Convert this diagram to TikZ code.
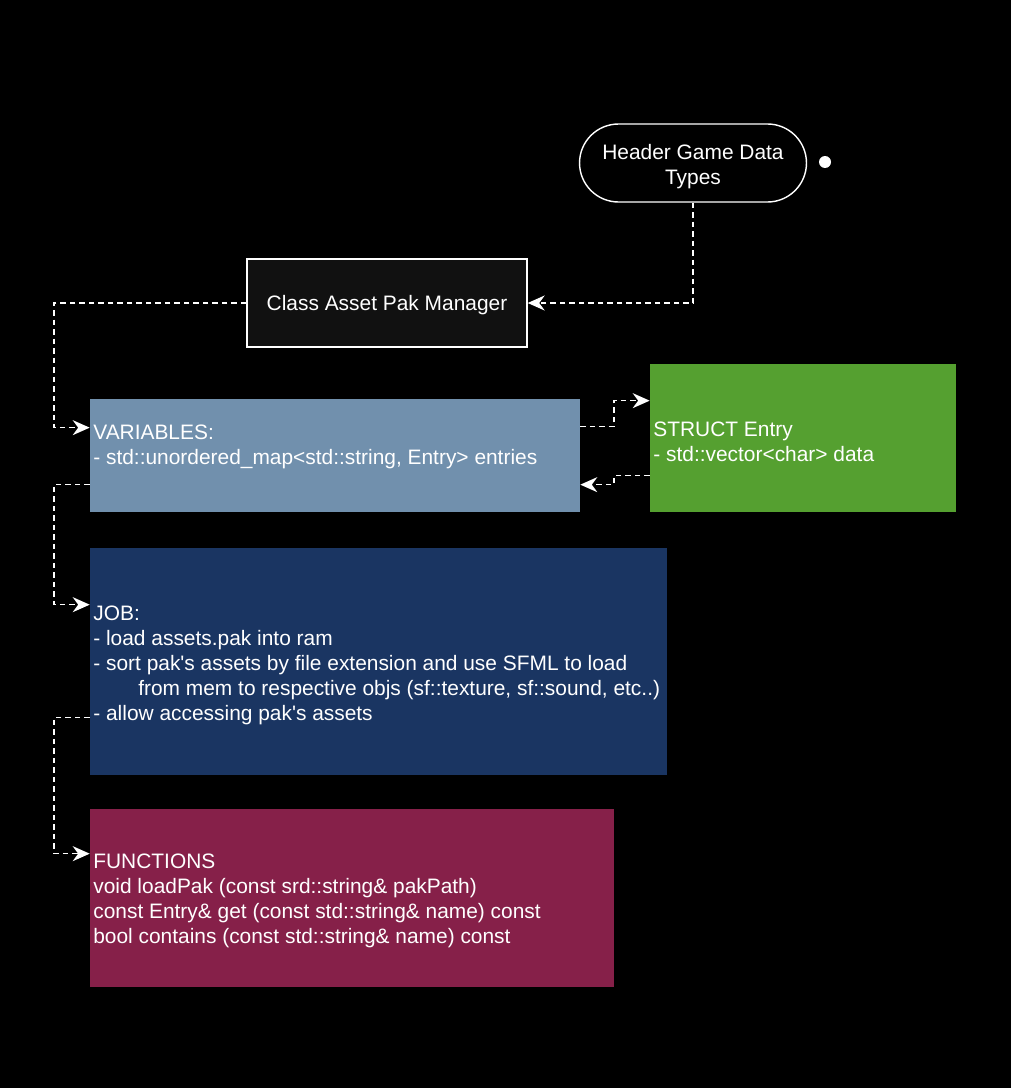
\documentclass[tikz,border=0pt]{standalone}
\usepackage{fontspec}
\setmainfont{Liberation Sans}
\usepackage{tikz}
\usetikzlibrary{shapes, calc, arrows.meta, positioning}

\definecolor{varblue}{HTML}{7190AD}
\definecolor{structgreen}{HTML}{55A030}
\definecolor{jobblue}{HTML}{1A3562}
\definecolor{funcred}{HTML}{862049}
\definecolor{classgray}{HTML}{111111}
\newcommand{\q}{\textquotesingle}

\tikzset{
  box/.style={rectangle, inner sep=0pt},
  txt/.style={anchor=west, align=left, text=white, inner sep=0pt,
    font=\fontsize{11.9}{14.2}\selectfont},
  link/.style={draw=white, line width=0.85pt, dash pattern=on 0.11cm off 0.08cm,
    -{Stealth[length=0.34cm, width=0.3cm, inset=0.11cm]}},
}

\begin{document}
\begin{tikzpicture}[x=0.02cm, y=-0.02cm]
	\fill[black] (0,0) rectangle (1011,1088);
	\useasboundingbox (0,0) rectangle (1011,1088);

	\node[box, draw=white, line width=0.8pt, rounded corners=0.78cm, minimum width=4.54cm, minimum height=1.56cm] (hdr) at (693,163) {};
	\node[txt, anchor=center, align=center] (hdrtxt) at (693,166.5) {Header Game Data\\Types};
	\node[circle, fill=white, inner sep=0pt, minimum size=0.24cm] (dot) at (825,162) {};

	\node[box, draw=white, line width=0.8pt, fill=classgray, minimum width=5.6cm, minimum height=1.76cm] (class) at (387,303) {};
	\node[txt, anchor=center] (classtxt) at (387,305.5) {Class Asset Pak Manager};

	\node[box, fill=varblue, minimum width=9.8cm, minimum height=2.26cm] (vars) at (335,455.5) {};
	\node[txt] (varstxt) at (93,446.5) {VARIABLES:\\- std::unordered\_map<std::string, Entry> entries};

	\node[box, fill=structgreen, minimum width=6.12cm, minimum height=2.96cm] (struct) at (803,438) {};
	\node[txt] (structtxt) at (653,441.5) {STRUCT Entry\\- std::vector<char> data};

	\node[box, fill=jobblue, minimum width=11.54cm, minimum height=4.54cm] (job) at (378.5,661.5) {};
	\node[txt] (jobtxt) at (93,665) {JOB:\\- load assets.pak into ram\\- sort pak\q s assets by file extension and use SFML to load\\
	  \hspace*{0.9cm}from mem to respective objs (sf::texture, sf::sound, etc..)\\- allow accessing pak\q s assets};

	\node[box, fill=funcred, minimum width=10.48cm, minimum height=3.56cm] (func) at (352,898) {};
	\node[txt] (functxt) at (93,901) {FUNCTIONS\\void loadPak (const srd::string\& pakPath)\\
	  const Entry\& get (const std::string\& name) const\\bool contains (const std::string\& name) const};

	% rails and ports
	\coordinate (rail) at (54,0);
	\coordinate (mid) at (614,0);
	\coordinate (varsin) at ($(vars.north west)+(0,29)$);
	\coordinate (varsout) at ($(vars.north east)+(0,28)$);
	\coordinate (varsback) at ($(vars.north east)+(0,86)$);
	\coordinate (varsdown) at ($(vars.north west)+(0,86)$);
	\coordinate (structin) at ($(struct.north west)+(0,37)$);
	\coordinate (structout) at ($(struct.north west)+(0,112)$);
	\coordinate (jobin) at ($(job.north west)+(0,57)$);
	\coordinate (jobdown) at ($(job.north west)+(0,170)$);
	\coordinate (funcin) at ($(func.north west)+(0,45)$);

	\draw[link] (hdr.south) |- (class.east);
	\draw[link] (class.west) -- (class.west -| rail) |- (varsin);
	\draw[link] (varsout) -- (varsout -| mid) |- (structin);
	\draw[link] (structout) -- (structout -| mid) |- (varsback);
	\draw[link] (varsdown) -- (varsdown -| rail) |- (jobin);
	\draw[link] (jobdown) -- (jobdown -| rail) |- (funcin);
\end{tikzpicture}
\end{document}
